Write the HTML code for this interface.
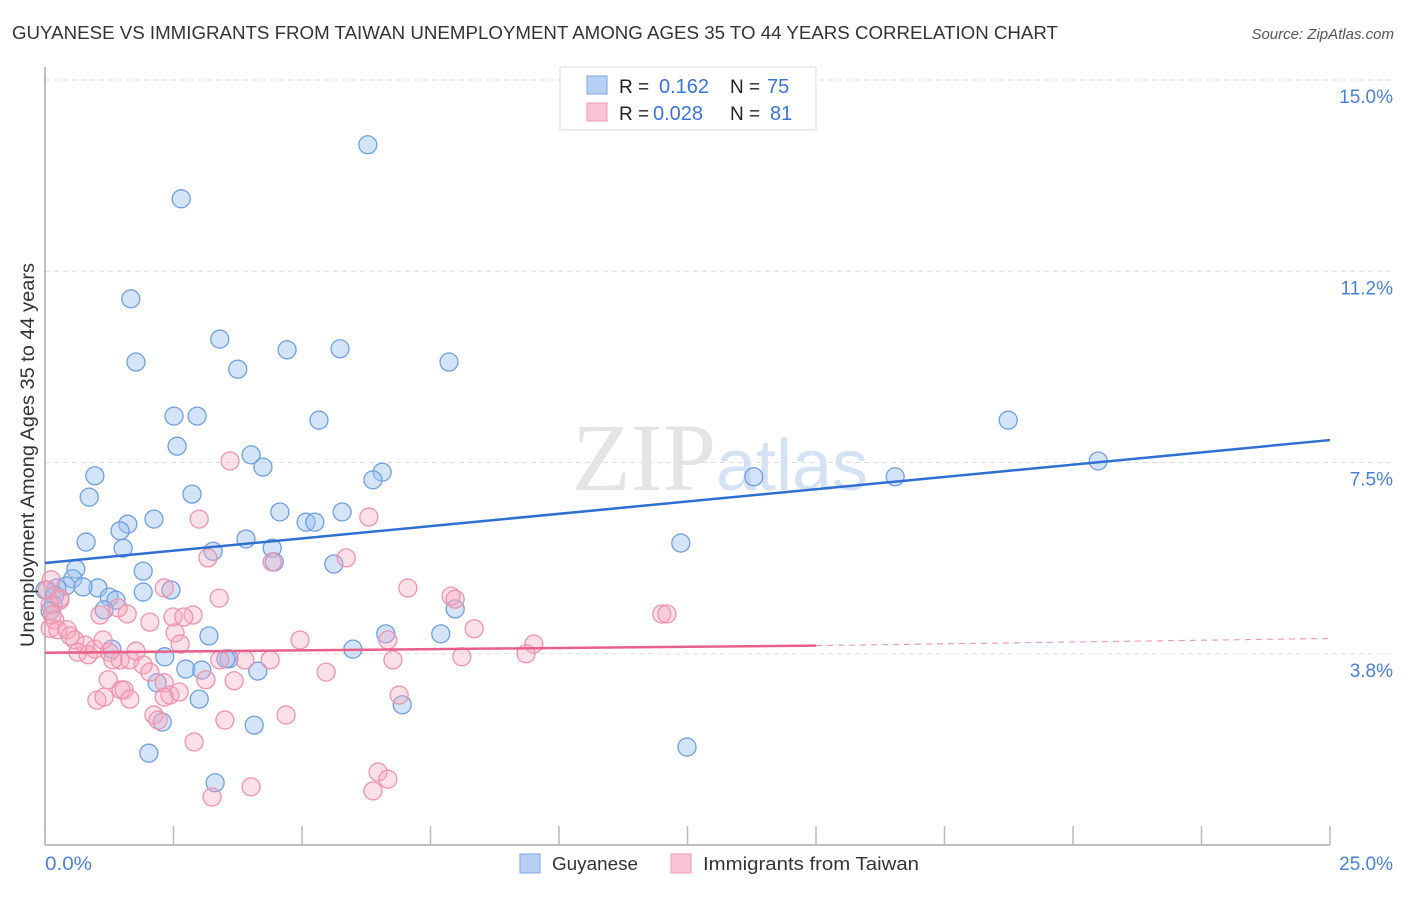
<!DOCTYPE html>
<html><head><meta charset="utf-8"><style>
body{margin:0;background:#fff;font-family:"Liberation Sans",sans-serif;}
</style></head><body>
<svg width="1406" height="892" xmlns="http://www.w3.org/2000/svg" font-family="Liberation Sans, sans-serif">
<text x="12" y="39" font-size="18" fill="#333" textLength="1046" lengthAdjust="spacingAndGlyphs">GUYANESE VS IMMIGRANTS FROM TAIWAN UNEMPLOYMENT AMONG AGES 35 TO 44 YEARS CORRELATION CHART</text>
<text x="1394" y="39" font-size="15" fill="#555" text-anchor="end" font-style="italic">Source: ZipAtlas.com</text>
<g id="grid"></g>
<text x="720" y="490" font-size="96" fill="#e4e4e4" text-anchor="middle" font-family="Liberation Serif, serif">ZIP<tspan fill="#d5e2f3" font-family="Liberation Sans, sans-serif" font-size="72">atlas</tspan></text>
<g id="pts"></g>
<g id="trend"></g>
<text transform="translate(34,647) rotate(-90)" font-size="19" fill="#333" textLength="384" lengthAdjust="spacingAndGlyphs">Unemployment Among Ages 35 to 44 years</text>
<text x="45" y="870" font-size="19" fill="#4a7fd6" textLength="47" lengthAdjust="spacingAndGlyphs">0.0%</text>
<text x="1393" y="870" font-size="19" fill="#4a7fd6" text-anchor="end">25.0%</text>
<g>
<rect x="560" y="67" width="256" height="63" fill="#fff" stroke="#ddd"/>
<rect x="587" y="76" width="20" height="18" fill="#b8d0f4" stroke="#7ea6e0"/>
<rect x="587" y="103" width="20" height="18" fill="#f9c4d3" stroke="#ee9ab2"/>
<text x="619" y="93" font-size="19" fill="#222">R = </text><text x="659" y="93" font-size="20" fill="#3a74d4">0.162</text>
<text x="730" y="93" font-size="19" fill="#222">N = </text><text x="767" y="93" font-size="20" fill="#3a74d4">75</text>
<text x="619" y="120" font-size="19" fill="#222">R = </text><text x="653" y="120" font-size="20" fill="#3a74d4">0.028</text>
<text x="730" y="120" font-size="19" fill="#222">N = </text><text x="770" y="120" font-size="20" fill="#3a74d4">81</text>
</g>
<g>
<rect x="520" y="854" width="20" height="19" fill="#b8d0f4" stroke="#7ea6e0"/>
<text x="552" y="870" font-size="18" fill="#333" textLength="86" lengthAdjust="spacingAndGlyphs">Guyanese</text>
<rect x="671" y="854" width="20" height="19" fill="#f9c4d3" stroke="#ee9ab2"/>
<text x="703" y="870" font-size="18" fill="#333" textLength="216" lengthAdjust="spacingAndGlyphs">Immigrants from Taiwan</text>
</g>
</svg>
<script>
const yTicks=[15.0,11.25,7.5,3.75];
const yTickLabels=["15.0%","11.2%","7.5%","3.8%"];
const xTicks=[0,2.5,5,7.5,10,12.5,15,17.5,20,22.5,25];
const bluePx=[[368,145],[181,199],[131,299],[136,362],[220,339],[238,369],[287,350],[340,349],[449,362],[174,416],[197,416],[177,446],[319,420],[251,455],[263,467],[382,472],[373,480],[95,476],[89,497],[192,494],[154,519],[128,524],[120,531],[123,548],[86,542],[280,512],[306,522],[315,522],[342,512],[246,539],[272,548],[213,551],[274,562],[334,564],[1008,420],[1098,461],[895,477],[754,477],[681,543],[76,569],[143,571],[73,579],[66,586],[57,588],[45,590],[55,595],[98,588],[83,587],[109,597],[143,592],[171,590],[116,600],[104,610],[455,609],[53,605],[50,611],[209,636],[386,634],[441,634],[353,649],[112,649],[165,657],[229,659],[226,659],[258,671],[186,669],[202,670],[157,683],[199,699],[162,722],[254,725],[402,705],[149,753],[687,747],[215,783]];
const pinkPx=[[230,461],[199,519],[369,517],[208,558],[346,558],[272,562],[164,588],[408,588],[451,596],[455,599],[219,598],[662,614],[667,614],[60,600],[50,605],[52,615],[55,620],[127,614],[100,615],[150,622],[118,608],[173,617],[193,615],[184,617],[50,628],[58,630],[67,630],[70,636],[75,640],[85,645],[95,649],[109,652],[120,660],[130,660],[143,665],[136,651],[103,640],[78,652],[175,633],[180,644],[300,640],[388,640],[474,629],[534,644],[526,654],[462,657],[393,660],[270,660],[245,660],[220,660],[150,672],[164,683],[206,680],[234,681],[326,672],[108,680],[121,690],[97,700],[104,697],[170,695],[164,697],[179,692],[124,690],[399,695],[130,699],[154,715],[158,720],[225,720],[286,715],[194,742],[212,797],[251,787],[378,772],[373,791],[388,779],[51,580],[47,590],[60,598],[88,655],[113,660]];
const blueX=bluePx.map(p=>+((p[0]-45)/51.4).toFixed(2));
const blueY=bluePx.map(p=>+((845-p[1])/51).toFixed(2));
const pinkX=pinkPx.map(p=>+((p[0]-45)/51.4).toFixed(2));
const pinkY=pinkPx.map(p=>+((845-p[1])/51).toFixed(2));
const blueTrend=[5.53,7.94];
const pinkTrend=[3.77,3.91,4.05];
const NS="http://www.w3.org/2000/svg";
function X(v){return 45+v*51.4;}
function Y(v){return 845-v*51;}
function mk(t,a,parent){const e=document.createElementNS(NS,t);for(const k in a)e.setAttribute(k,a[k]);document.getElementById(parent).appendChild(e);return e;}
yTicks.forEach((t,i)=>{
 let l=mk('line',{x1:45,x2:1395,y1:Y(t),y2:Y(t),stroke:'#ddd','stroke-dasharray':'5,4'},'grid');
 
 
 let tx=mk('text',{x:1393,y:Y(t)+23,'font-size':19,fill:'#4a7fd6','text-anchor':'end'},'grid');
 tx.textContent=yTickLabels[i];
 
 
});
let ax=mk('line',{x1:45,x2:45,y1:67,y2:845,stroke:'#aaa','stroke-width':1.5},'grid');


let bx=mk('line',{x1:45,x2:1330,y1:845,y2:845,stroke:'#aaa','stroke-width':1.5},'grid');


xTicks.forEach(t=>{
 let l=mk('line',{x1:X(t),x2:X(t),y1:826,y2:845,stroke:'#bbb','stroke-width':1.5},'grid');
 
 
});
blueX.forEach((v,i)=>{
 let c=mk('circle',{cx:X(v),cy:Y(blueY[i]),r:9,fill:'rgba(160,195,240,0.45)',stroke:'#6f9fe0','stroke-width':1.3},'pts');
 
 
});
pinkX.forEach((v,i)=>{
 let c=mk('circle',{cx:X(v),cy:Y(pinkY[i]),r:9,fill:'rgba(245,165,190,0.35)',stroke:'#ee93ad','stroke-width':1.3},'pts');
 
 
});
let bt=mk('line',{x1:X(0),y1:Y(blueTrend[0]),x2:X(25),y2:Y(blueTrend[1]),stroke:'#2f6fd0','stroke-width':2.5},'trend');


let pt=mk('line',{x1:X(0),y1:Y(pinkTrend[0]),x2:X(15),y2:Y(pinkTrend[1]),stroke:'#e8608a','stroke-width':2.5},'trend');


let pd=mk('line',{x1:X(15),y1:Y(pinkTrend[1]),x2:X(25),y2:Y(pinkTrend[2]),stroke:'#e8a0b5','stroke-width':1.2,'stroke-dasharray':'6,5'},'trend');


</script>
</body></html>
